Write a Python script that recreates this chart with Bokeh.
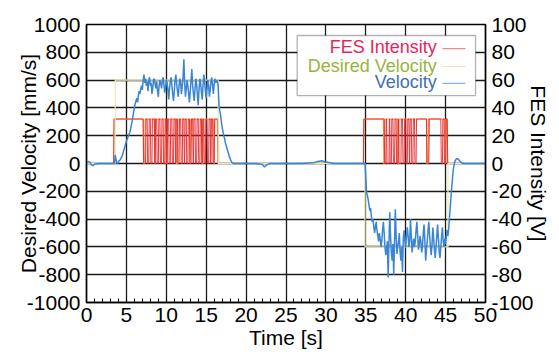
import numpy as np
from bokeh.plotting import figure
from bokeh.models import Range1d, LinearAxis, BoxAnnotation, Label, Arrow, FixedTicker, PrintfTickFormatter
from bokeh.embed import file_html
from bokeh.resources import INLINE

# ---------------- data ----------------
# Velocity [mm/s]
vel_quiet1_t = [0, 0.2, 0.4, 0.6, 0.8, 1.0, 1.5, 2.0, 2.5, 3.0, 3.4]
vel_quiet1_v = [0, 15, 10, -10, -15, -5, 0, 0, 0, 0, 0]

vel_burst1_start = 3.5   # sampled every 0.1 s
vel_burst1_v = [
    0, 60, 30, 5, 0, 10, 20, 25, 35, 45,
    60, 80, 100, 120, 140, 160, 175, 190, 205, 220,
    240, 270, 300, 330, 370, 400, 430, 450, 470, 440,
    490, 520, 500, 540, 560, 530, 600, 640, 580, 610,
    560, 590, 520, 600, 620, 560, 580, 500, 540, 600,
    610, 570, 540, 590, 520, 480, 560, 600, 580, 540,
    590, 620, 570, 510, 550, 600, 580, 530, 460, 540,
    590, 620, 560, 500, 450, 520, 600, 640, 570, 520,
    480, 560, 610, 580, 500, 560, 620, 750, 580, 480,
    540, 600, 560, 500, 440, 520, 600, 680, 560, 500,
    450, 540, 610, 570, 490, 420, 530, 610, 580, 510,
    460, 560, 640, 590, 520, 470, 540, 600, 560, 480,
    530, 590, 620, 560, 500, 570, 610, 580, 600, 590,
    560, 420, 380, 350, 300, 260, 230, 200, 180, 150,
    130, 110, 90, 70, 50, 35, 20, 10, 5, 0,
]

vel_quiet2_t = [18.6, 19, 20, 21, 22, 22.3, 22.6, 23, 25, 27, 28.5, 29, 29.5, 30, 31, 33, 34.8]
vel_quiet2_v = [0, 0, 0, 0, -5, -25, -10, 0, 0, 0, 5, 15, 20, 10, 0, 0, 0]

vel_burst2_start = 34.9  # sampled every 0.1 s
vel_burst2_v = [
    0, -100, -210, -230, -260, -300, -340, -320, -380, -420,
    -400, -450, -500, -460, -420, -480, -520, -560, -500, -540,
    -600, -560, -480, -420, -500, -600, -660, -620, -560, -820,
    -580, -350, -520, -640, -700, -580, -800, -560, -330, -520,
    -650, -600, -560, -500, -640, -700, -600, -780, -540, -480,
    -560, -600, -520, -460, -520, -600, -560, -400, -520, -640,
    -580, -540, -600, -560, -480, -420, -520, -620, -580, -520,
    -560, -640, -600, -500, -440, -560, -700, -620, -560, -480,
    -420, -520, -600, -660, -580, -460, -540, -620, -680, -600,
    -520, -440, -540, -640, -680, -600, -520, -460, -560, -600,
    -540, -580, -520, -480, -520, -460, -380, -300, -220, -150,
    -80, -30, 0, 20, 30, 35, 35, 30, 25, 15,
    10, 5, 0,
]

vel_quiet3_t = [47.5, 48, 49, 50]
vel_quiet3_v = [0, 0, 0, 0]

# Desired velocity [mm/s]
des_t = [0, 3.6, 3.6, 16.5, 16.5, 34.9, 34.9, 45.3, 45.3, 50]
des_v = [0, 0, 600, 600, 0, 0, -600, -600, 0, 0]

# FES intensity [V]: stimulation windows and the gaps (off periods) inside them
fes_level = 32
fes_red_windows = [(3.4, 16.4), (34.7, 45.2)]
fes_red_gaps = [
    (7.1, 7.4), (7.6, 7.8), (8.0, 8.2), (8.5, 8.6), (8.8, 9.0), (9.2, 9.4),
    (9.6, 9.8), (10.0, 10.1), (10.3, 10.5), (10.7, 10.9), (11.1, 11.2),
    (11.4, 11.6), (11.8, 12.0), (12.2, 12.3), (12.5, 12.7), (12.9, 13.1),
    (13.3, 13.4), (13.6, 13.8), (14.0, 14.2), (14.4, 14.5), (14.7, 14.9),
    (15.1, 15.3), (15.5, 15.6), (15.8, 16.0),
    (37.3, 37.5), (37.6, 37.9), (38.0, 38.2), (38.4, 38.6), (38.8, 39.0),
    (39.1, 39.4), (39.6, 39.8), (40.0, 40.2), (40.4, 40.5), (40.7, 40.9),
    (41.1, 41.3), (42.6, 42.9), (44.4, 44.6), (44.8, 45.0),
]
fes_orange_windows = [(3.4, 16.5), (34.7, 45.2)]
fes_orange_gaps = [
    (7.1, 7.3), (8.5, 8.6), (9.9, 10.1), (11.2, 11.4), (12.9, 13.0),
    (14.4, 14.6), (15.9, 16.0),
    (37.2, 37.3), (39.0, 39.1), (42.6, 42.8), (44.9, 45.0),
]

x_ticks = list(range(0, 51, 5))
y_ticks = list(range(-1000, 1001, 200))
y2_ticks = list(range(-100, 101, 20))

# ---------------- build series ----------------
def burst_times(start, vals):
    return list(np.round(start + 0.1 * np.arange(len(vals)), 2))

vel_t = (vel_quiet1_t + burst_times(vel_burst1_start, vel_burst1_v) + vel_quiet2_t
         + burst_times(vel_burst2_start, vel_burst2_v) + vel_quiet3_t)
vel_v = vel_quiet1_v + vel_burst1_v + vel_quiet2_v + vel_burst2_v + vel_quiet3_v


def pulses(windows, gaps, level, edge=0.06, t_end=50):
    t, v = [0], [0]
    for a, b in windows:
        t += [a, a + edge]
        v += [0, level]
        for g0, g1 in gaps:
            if a < g0 < b:
                t += [g0, g0 + edge, g1, g1 + edge]
                v += [level, 0, 0, level]
        t += [b, b + edge]
        v += [level, 0]
    t.append(t_end)
    v.append(0)
    return t, v

red_t, red_v = pulses(fes_red_windows, fes_red_gaps, fes_level)
org_t, org_v = pulses(fes_orange_windows, fes_orange_gaps, fes_level)

# ---------------- figure ----------------
AXFONT = "Liberation Sans"
LGFONT = "Liberation Sans"
p = figure(width=559, height=358, x_range=Range1d(0, 50), y_range=Range1d(-1000, 1000),
           output_backend="svg", toolbar_location=None,
           min_border_left=86, min_border_right=74, min_border_top=24, min_border_bottom=56)
p.background_fill_color = "white"
p.border_fill_color = "white"
p.outline_line_color = "black"
p.outline_line_width = 1.5
p.extra_y_ranges = {"fes": Range1d(-100, 100)}

xax = p.xaxis[0]
yax = p.yaxis[0]
xax.ticker = FixedTicker(ticks=x_ticks, minor_ticks=list(range(0, 51)))
yax.ticker = FixedTicker(ticks=y_ticks)
p.xgrid.ticker = FixedTicker(ticks=x_ticks)
p.ygrid.ticker = FixedTicker(ticks=y_ticks)
for g in (p.xgrid, p.ygrid):
    g.grid_line_color = "#1a1a1a"
    g.grid_line_width = 1.3
    g.grid_line_alpha = 1.0

ax2 = LinearAxis(y_range_name="fes", ticker=FixedTicker(ticks=y2_ticks))
p.add_layout(ax2, "right")

xax.axis_label = "Time [s]"
yax.axis_label = "Desired Velocity [mm/s]"
ax2.axis_label = "FES Intensity [V]"

for ax in (xax, yax, ax2):
    ax.formatter = PrintfTickFormatter(format="%d")
    ax.axis_line_color = "black"
    ax.axis_line_width = 1.3
    ax.major_tick_in = 0
    ax.major_tick_out = 0
    ax.major_label_text_font = AXFONT
    ax.major_label_text_font_size = "21px"
    ax.major_label_text_color = "black"
    ax.axis_label_text_font = AXFONT
    ax.axis_label_text_font_size = "21px"
    ax.axis_label_text_font_style = "normal"
    ax.axis_label_text_color = "black"

xax.minor_tick_in = 4
xax.minor_tick_out = 0
xax.minor_tick_line_color = "black"
yax.minor_tick_line_color = None
ax2.minor_tick_line_color = None

xax.major_label_standoff = 5
xax.axis_label_standoff = 1
yax.major_label_standoff = 6
yax.axis_label_standoff = -16
ax2.major_label_standoff = 6
ax2.axis_label_standoff = -10

# ---------------- series ----------------
p.line(org_t, org_v, y_range_name="fes", line_color="#f39a4a", line_width=1.2)
p.line(red_t, red_v, y_range_name="fes", line_color="#e8262c", line_width=1.0, line_alpha=0.9)
p.line(des_t, des_v, line_color="#efe9b0", line_width=1.2)
p.line(vel_t, vel_v, line_color="#3a86d4", line_width=1.5)

# ---------------- legend (text left, sample line right) ----------------
box = BoxAnnotation(left=26.4, right=48.75, top=921, bottom=489,
                    fill_color="white", fill_alpha=1.0, line_color="black", line_width=1.3)
p.add_layout(box)
legend_rows = [
    ("FES Intensity", "#e8245a", "#f08a8a", 835, 827),
    ("Desired Velocity", "#98b43c", "#eee6a0", 705, 698),
    ("Velocity", "#3c6fb4", "#86b4e2", 585, 576),
]
for txt, tcol, lcol, ty, ly in legend_rows:
    p.add_layout(Label(x=43.9, y=ty, text=txt, text_align="right", text_baseline="middle",
                       text_font=LGFONT, text_font_size="18px", text_color=tcol))
    p.add_layout(Arrow(end=None, x_start=44.6, x_end=47.5, y_start=ly, y_end=ly,
                       line_color=lcol, line_width=1.2))

open("out.html", "w").write(file_html(p, INLINE))
